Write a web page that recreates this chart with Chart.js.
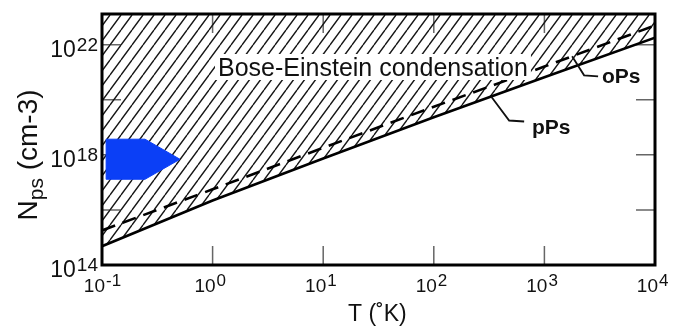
<!DOCTYPE html>
<html>
<head>
<meta charset="utf-8">
<script src="https://cdn.jsdelivr.net/npm/chart.js@4"></script>
<style>
  body { margin: 0; background: #fff; }
  canvas { display: block; }
</style>
</head>
<body>
<canvas id="chart" width="674" height="328"></canvas>
<script>
// temperatures (K) and critical densities (cm^-3)
const temps = [0.1, 1, 10, 100, 1000, 10000];
const pPsDensity = [4.8e14, 2.2e16, 7.4e17, 2.3e19, 6.6e20, 1.8e22];
const oPsDensity = [1.8e15, 5.6e16, 1.8e18, 5.6e19, 1.6e21, 5.0e22];

// blue arrow marker (outline in data space)
const arrowT = [0.109, 0.245, 0.507, 0.245, 0.109, 0.109];
const arrowN = [3.7e18, 3.7e18, 6.9e17, 1.3e17, 1.3e17, 3.7e18];

// tick exponents
const xTickExps = [-1, 0, 1, 2, 3, 4];
const yTickExps = [14, 16, 18, 20, 22];
const yLabelExps = [14, 18, 22];

const FONT = '"Liberation Sans", Arial, Helvetica, sans-serif';

// diagonal hatching for the condensation region
const hatch = (() => {
    const c = document.createElement("canvas");
    c.width = 11;
    c.height = 15;
    const g = c.getContext("2d");
    g.strokeStyle = "#161616";
    g.lineWidth = 1.4;
    g.beginPath();
    for (const dx of [-11, 0, 11]) {
        g.moveTo(dx, 15);
        g.lineTo(dx + 11, 0);
    }
    g.stroke();
    return g.createPattern(c, "repeat");
})();

function toPoints(xs, ys) {
    return xs.map((x, i) => ({ x: x, y: ys[i] }));
}

// log-log interpolation of a series at temperature t
function valueAt(series, t) {
    const lt = Math.log10(t);
    for (let i = 0; i < temps.length - 1; i++) {
        const a = Math.log10(temps[i]), b = Math.log10(temps[i + 1]);
        if (lt >= a && lt <= b) {
            const f = (lt - a) / (b - a);
            return Math.pow(10, Math.log10(series[i]) + f * (Math.log10(series[i + 1]) - Math.log10(series[i])));
        }
    }
    return series[series.length - 1];
}

function drawPower(ctx, x, y, exp, baseSize, expSize, rise, align) {
    ctx.font = baseSize + "px " + FONT;
    const wb = ctx.measureText("10").width;
    ctx.font = expSize + "px " + FONT;
    const we = ctx.measureText(exp).width;
    // align: "right" -> x is right edge of exponent; "base" -> x is right edge of "10"
    let left = align === "right" ? x - we - wb - 1 : x - wb;
    ctx.textAlign = "left";
    ctx.textBaseline = "alphabetic";
    ctx.font = baseSize + "px " + FONT;
    ctx.fillText("10", left, y);
    ctx.font = expSize + "px " + FONT;
    ctx.fillText(exp, left + wb + 1, y - rise);
}

const decorations = {
    id: "decorations",
    beforeDatasetsDraw(chart) {
        const { ctx, chartArea: a, scales } = chart;
        ctx.save();
        ctx.strokeStyle = "#666";
        ctx.lineWidth = 1.5;
        ctx.beginPath();
        xTickExps.slice(1, -1).forEach((e) => {
            const px = scales.x.getPixelForValue(Math.pow(10, e));
            ctx.moveTo(px, a.bottom);
            ctx.lineTo(px, a.bottom - 19);
            ctx.moveTo(px, a.top);
            ctx.lineTo(px, a.top + 19);
        });
        yTickExps.slice(1).forEach((e) => {
            const py = scales.y.getPixelForValue(Math.pow(10, e));
            ctx.moveTo(a.left, py);
            ctx.lineTo(a.left + 19, py);
            ctx.moveTo(a.right, py);
            ctx.lineTo(a.right - 19, py);
        });
        ctx.stroke();
        ctx.restore();
    },
    afterDatasetsDraw(chart) {
        const { ctx, chartArea: a, scales } = chart;
        ctx.save();

        // region label on a white box
        ctx.font = "25px " + FONT;
        const label = "Bose-Einstein condensation";
        const lw = ctx.measureText(label).width;
        ctx.fillStyle = "#fff";
        ctx.fillRect(215, 54, lw + 6, 26);
        ctx.fillStyle = "#111";
        ctx.textAlign = "left";
        ctx.textBaseline = "alphabetic";
        ctx.fillText(label, 218, 76);

        // callouts for the two curves
        ctx.strokeStyle = "#111";
        ctx.lineWidth = 1.8;
        const oT = 1780, pT = 330;
        const ox = scales.x.getPixelForValue(oT), oy = scales.y.getPixelForValue(valueAt(oPsDensity, oT));
        const px = scales.x.getPixelForValue(pT), py = scales.y.getPixelForValue(valueAt(pPsDensity, pT));
        ctx.beginPath();
        ctx.moveTo(ox, oy);
        ctx.lineTo(ox + 12, oy + 19);
        ctx.lineTo(ox + 26, oy + 20);
        ctx.moveTo(px, py);
        ctx.lineTo(px + 18, py + 24);
        ctx.lineTo(px + 33, py + 25);
        ctx.stroke();
        ctx.font = "bold 21px " + FONT;
        ctx.fillStyle = "#111";
        ctx.fillText("oPs", 602, 83);
        ctx.fillText("pPs", 532, 134);

        ctx.restore();
    },
    afterDraw(chart) {
        const { ctx, chartArea: a, scales } = chart;
        ctx.save();
        ctx.fillStyle = "#111";

        // y tick labels
        yLabelExps.forEach((e) => {
            const py = scales.y.getPixelForValue(Math.pow(10, e));
            drawPower(ctx, 98, py + 12, String(e), 23, 19, 6, "right");
        });
        // x tick labels
        xTickExps.forEach((e) => {
            const px = scales.x.getPixelForValue(Math.pow(10, e));
            drawPower(ctx, px + 3, 292, e < 0 ? "-" + Math.abs(e) : String(e), 19, 17, 6, "base");
        });

        // x title
        ctx.font = "23px " + FONT;
        ctx.textAlign = "left";
        ctx.fillText("T (\u02DAK)", 348, 321);

        // y title, rotated, with subscript
        ctx.translate(37, 155);
        ctx.rotate(-Math.PI / 2);
        ctx.font = "28px " + FONT;
        const wN = ctx.measureText("N").width;
        const wRest = ctx.measureText(" (cm-3)").width;
        ctx.font = "21px " + FONT;
        const wSub = ctx.measureText("ps").width;
        let sx = -(wN + wSub + wRest) / 2;
        ctx.font = "28px " + FONT;
        ctx.fillText("N", sx, 0);
        ctx.font = "21px " + FONT;
        ctx.fillText("ps", sx + wN, 6);
        ctx.font = "28px " + FONT;
        ctx.fillText(" (cm-3)", sx + wN + wSub, 0);
        ctx.setTransform(1, 0, 0, 1, 0, 0);

        // plot frame
        ctx.strokeStyle = "#000";
        ctx.lineWidth = 3;
        ctx.strokeRect(a.left, a.top, a.right - a.left, a.bottom - a.top);
        ctx.restore();
    }
};

new Chart(document.getElementById("chart"), {
    type: "line",
    data: {
        datasets: [
            {
                label: "arrow",
                data: toPoints(arrowT, arrowN),
                borderColor: "#0b3ff6",
                backgroundColor: "#0b3ff6",
                borderWidth: 1,
                fill: "shape",
                tension: 0,
                pointRadius: 0,
                order: 0,
            },
            {
                label: "oPs",
                data: toPoints(temps, oPsDensity),
                borderColor: "#000",
                borderWidth: 2.6,
                borderDash: [14, 8],
                fill: false,
                tension: 0,
                pointRadius: 0,
                order: 1,
            },
            {
                label: "pPs",
                data: toPoints(temps, pPsDensity),
                borderColor: "#000",
                borderWidth: 2.6,
                backgroundColor: hatch,
                fill: "end",
                tension: 0,
                pointRadius: 0,
                order: 2,
            },
        ],
    },
    options: {
        responsive: false,
        animation: false,
        layout: {
            padding: { left: 102, right: 19, top: 14, bottom: 63 },
        },
        plugins: {
            legend: { display: false },
            tooltip: { enabled: false },
        },
        scales: {
            x: { type: "logarithmic", min: 0.1, max: 10000, display: false },
            y: { type: "logarithmic", min: 1e14, max: 1.3e23, display: false },
        },
    },
    plugins: [decorations],
});
</script>
</body>
</html>
